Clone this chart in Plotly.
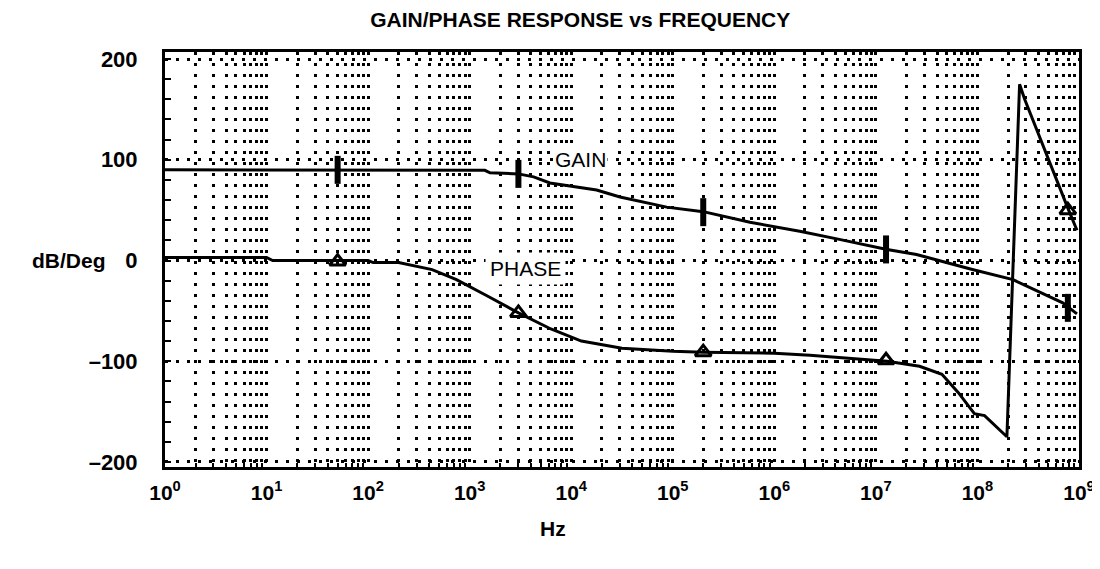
import plotly.graph_objects as go

# gain curve (log10 Hz, dB)
gain_logf = [0, 1, 2, 3.0, 3.15, 3.2, 3.48, 3.63, 3.79, 4.25, 4.48, 4.94, 5.30,
             5.76, 6.25, 6.64, 7.11, 7.40, 7.95, 8.35, 8.84, 8.98]
gain_db = [90, 90, 90, 90, 89.5, 87, 86, 83, 77, 70, 63, 53, 48.5,
           38, 29, 21, 11, 6, -9, -19, -42, -53]

# phase curve (log10 Hz, degrees)
phase_logf = [0, 1.0, 1.06, 2.0, 2.05, 2.3, 2.63, 2.87, 3.17, 3.48, 3.8, 4.1, 4.5,
              5.0, 5.3, 6.0, 6.35, 7.11, 7.43, 7.65, 7.81, 7.97, 8.07, 8.29,
              8.415, 8.465, 8.89, 8.98]
phase_deg = [3, 3, 0, 0, -2, -2, -9, -19, -35, -52, -68, -80, -87,
             -90, -91, -92, -94, -100, -105, -113, -131, -152, -154, -175,
             175, 160, 52, 30]

# marker frequencies and readings
mark_logf = [1.70, 3.48, 5.30, 7.10, 8.89]
gain_marks = [90, 86, 48, 11, -47]
phase_marks = [-1, -52, -91, -99, 50]

decades = list(range(0, 10))
tick_text = ['10<sup>%d</sup>' % d for d in decades]

to_hz = lambda v: [10 ** x for x in v]

fig = go.Figure()

fig.add_trace(go.Scatter(
    x=to_hz(gain_logf), y=gain_db, mode='lines',
    line=dict(color='black', width=3), name='GAIN'
))
fig.add_trace(go.Scatter(
    x=to_hz(phase_logf), y=phase_deg, mode='lines',
    line=dict(color='black', width=3), name='PHASE'
))
fig.add_trace(go.Scatter(
    x=to_hz(mark_logf), y=gain_marks, mode='markers',
    marker=dict(symbol='line-ns', size=20, line=dict(color='black', width=6))
))
fig.add_trace(go.Scatter(
    x=to_hz(mark_logf), y=phase_marks, mode='markers',
    marker=dict(symbol='triangle-up-open', size=14, color='black',
                line=dict(color='black', width=3))
))

dot = '3px,8px'
font = 'Liberation Sans, Arial, sans-serif'

# page body adds an 8px margin, so the figure is 8px smaller than the window
fig.update_layout(
    width=1092, height=561,
    paper_bgcolor='white', plot_bgcolor='white',
    showlegend=False,
    margin=dict(l=157, r=21, t=44, b=102, autoexpand=False),
    font=dict(family=font, color='black'),
    title=dict(text='<b>GAIN/PHASE RESPONSE vs FREQUENCY</b>',
               x=0.524, xanchor='center', y=0.980, yanchor='middle',
               font=dict(size=21, family=font, color='black')),
    xaxis=dict(
        type='log', range=[0, 9], automargin=False,
        tickvals=[10 ** d for d in decades], ticktext=tick_text,
        tickfont=dict(size=21, family=font, color='black', weight='bold'),
        ticks='', ticklabelstandoff=5,
        showline=True, linecolor='black', linewidth=3, mirror=True,
        showgrid=True, gridcolor='black', gridwidth=3, griddash=dot,
        zeroline=False,
        minor=dict(tickvals=[m * 10 ** d for d in range(9) for m in range(2, 10)],
                   ticks='inside', ticklen=4, tickwidth=2, tickcolor='black',
                   showgrid=True, gridcolor='black', gridwidth=3, griddash=dot),
    ),
    yaxis=dict(
        range=[-205, 207], automargin=False,
        tickvals=[-200, -100, 0, 100, 200],
        ticktext=['\u2013200', '\u2013100', '0', '100', '200'],
        tickfont=dict(size=22, family=font, color='black', weight='bold'),
        ticks='', ticklabelstandoff=20,
        showline=True, linecolor='black', linewidth=3, mirror=True,
        showgrid=True, gridcolor='black', gridwidth=3, griddash=dot,
        zeroline=False,
        minor=dict(dtick=20, ticks='inside', ticklen=6, tickwidth=2,
                   tickcolor='black', showgrid=False),
    ),
    annotations=[
        dict(text='<b>dB/Deg</b>', xref='paper', yref='y', x=-0.062, y=0,
             xanchor='right', yanchor='middle', showarrow=False,
             font=dict(size=21, family=font, color='black')),
        dict(text='<b>Hz</b>', xref='paper', yref='paper', x=0.4245, y=-0.147,
             xanchor='center', yanchor='middle', showarrow=False,
             font=dict(size=21, family=font, color='black')),
        dict(text='GAIN', xref='x', yref='y', x=4.09, y=100,
             xanchor='center', yanchor='middle', showarrow=False,
             bgcolor='white', font=dict(size=21, family=font, color='black')),
        dict(text='PHASE', xref='x', yref='y', x=3.55, y=-8,
             xanchor='center', yanchor='middle', showarrow=False,
             bgcolor='white', borderpad=4,
             font=dict(size=21, family=font, color='black')),
    ],
)

fig.write_html('out.html')
